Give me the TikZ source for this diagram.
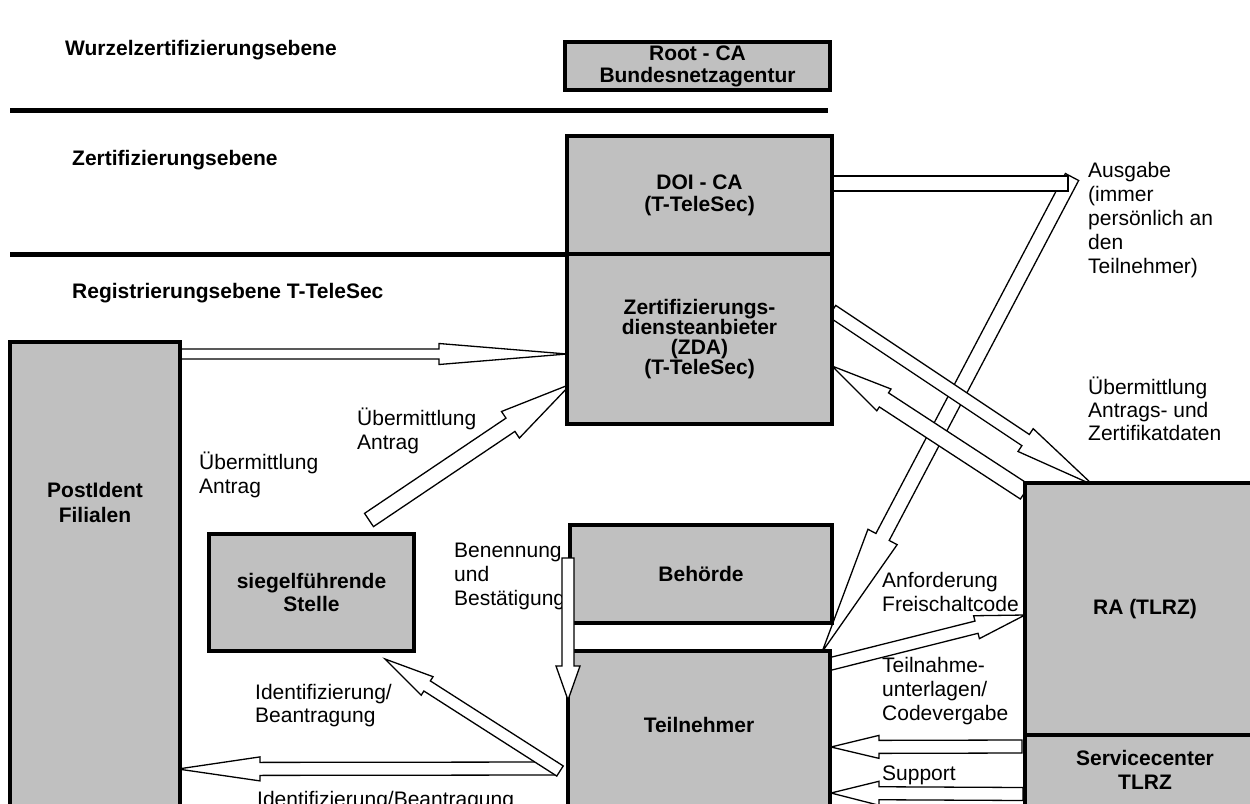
\documentclass[tikz,border=0pt]{standalone}
\usepackage{fontspec}
\setmainfont{Liberation Sans}
\usetikzlibrary{calc}
\definecolor{boxgray}{RGB}{192,192,192}
\newcommand\lf{\fontsize{21pt}{24pt}\selectfont}
\newcommand\bxs[1]{\fontsize{21pt}{#1}\selectfont\bfseries}
\newcommand\topst{\rule{0pt}{20pt}}
\newcommand\blkarrow[5]{%
  \coordinate (bkH) at ($(#2)!#5!(#1)$);
  \draw[barrow] ($(#1)!#3!90:(#2)$) -- ($(bkH)!#3!90:(#2)$) -- ($(bkH)!#4!90:(#2)$) -- (#2)
     -- ($(bkH)!#4!-90:(#2)$) -- ($(bkH)!#3!-90:(#2)$) -- ($(#1)!#3!-90:(#2)$) -- cycle;}
\tikzset{
  box/.style={draw=black, line width=4pt, fill=boxgray, inner sep=0pt, align=center, font=\bxs{22pt}},
  boxtext/.style={inner sep=0pt, align=center, font=\bxs{24pt}},
  lbl/.style={anchor=north west, inner sep=0pt, align=left, font=\lf},
  lvl/.style={anchor=base west, inner sep=0pt, font=\bxs{22pt}},
  barrow/.style={draw=black, line width=1.3pt, fill=white, line join=miter},
  sepline/.style={line width=5pt},
}
\begin{document}
\begin{tikzpicture}[x=1pt,y=-1pt]
\useasboundingbox (0,0) rectangle (1250,803);

% level labels and separators
\node[lvl] (lw) at (65,55.5) {Wurzelzertifizierungsebene};
\node[lvl] (lz) at (72,165.5) {Zertifizierungsebene};
\node[lvl] (lr) at (72,298.5) {Registrierungsebene T-TeleSec};
\draw[sepline] (10,110) -- (828,110);
\draw[sepline] (10,254) -- (567,254);

% labels
\node[lbl] (tAus) at (1088,157.5) {\topst Ausgabe\\(immer\\persönlich an\\den\\Teilnehmer)};
\node[lbl, font=\fontsize{21pt}{23pt}\selectfont] (tUeZ) at (1088,374.5) {\topst Übermittlung\\Antrags- und\\Zertifikatdaten};
\node[lbl] (tUe1) at (357,405.5) {\topst Übermittlung\\Antrag};
\node[lbl] (tUe2) at (199,449.5) {\topst Übermittlung\\Antrag};
\node[lbl] (tBen) at (454,537.5) {\topst Benennung\\und\\Bestätigung};
\node[lbl] (tAnf) at (882,567.5) {\topst Anforderung\\Freischaltcode};
\node[lbl] (tTeil) at (882,652.5) {\topst Teilnahme-\\unterlagen/\\Codevergabe};
\node[lbl] (tSup) at (882,760.5) {\topst Support};
\node[lbl, font=\fontsize{21pt}{23pt}\selectfont] (tId1) at (255,679.5) {\topst Identifizierung/\\Beantragung};
\node[lbl] (tId2) at (257,786.5) {\topst Identifizierung/Beantragung};

% arrow end points
\coordinate (a1t) at (180,354);   \coordinate (a1h) at (567,354);
\coordinate (a2t) at (369,520);   \coordinate (a2h) at (571,384);
\coordinate (a3t) at (832,311);   \coordinate (a3h) at (1093,485);
\coordinate (a4t) at (1025,492);  \coordinate (a4h) at (832,366);
\coordinate (a5t) at (830,664);   \coordinate (a5h) at (1025,615);
\coordinate (a6t) at (1072,177);  \coordinate (a6h) at (822,652);
\coordinate (a6a) at (832,176);   \coordinate (a6b) at (1068,191);
\coordinate (a7t) at (568,558);   \coordinate (a7h) at (568,700);
\coordinate (a8t) at (560,771);   \coordinate (a8h) at (385,659);
\coordinate (a9t) at (557,768.5); \coordinate (a9h) at (178,769);
\coordinate (a10t) at (1022,746.5); \coordinate (a10h) at (831,747);
\coordinate (a11t) at (1023,794); \coordinate (a11h) at (831,793);

% arrows
\blkarrow{a6t}{a6h}{7.5pt}{16.5pt}{130pt}
\draw[barrow] (a6a) rectangle (a6b);
\blkarrow{a3t}{a3h}{6.7pt}{13.7pt}{81pt}
\blkarrow{a4t}{a4h}{8.4pt}{13pt}{62pt}
\blkarrow{a1t}{a1h}{5pt}{10.5pt}{128pt}
\blkarrow{a2t}{a2h}{8pt}{16pt}{73pt}
\blkarrow{a5t}{a5h}{6.3pt}{11.8pt}{50pt}
\blkarrow{a9t}{a9h}{6.5pt}{12pt}{82pt}
\blkarrow{a8t}{a8h}{6pt}{11pt}{50pt}
\blkarrow{a10t}{a10h}{6.5pt}{11.5pt}{48pt}
\blkarrow{a11t}{a11h}{6.5pt}{12pt}{48pt}

% boxes
\node[box, minimum width=265pt, minimum height=48pt] (root) at (697.5,66) {Root - CA\\Bundesnetzagentur};
\node[box, minimum width=265pt, minimum height=118pt] (doi) at (699.5,195) {DOI - CA\\(T-TeleSec)};
\node[box, minimum width=265pt, minimum height=170pt, font=\bxs{20pt}] (zda) at (699.5,339) {Zertifizierungs-\\diensteanbieter\\(ZDA)\\(T-TeleSec)};
\node[box, minimum width=170pt, minimum height=488pt] (post) at (95,586) {};
\node[boxtext, font=\bxs{25pt}] (postt) at (95,502.5) {PostIdent\\Filialen};
\node[box, minimum width=205pt, minimum height=117pt, font=\bxs{23pt}] (siegel) at (311.5,592.5) {siegelführende\\Stelle};
\node[box, minimum width=262pt, minimum height=98pt] (beh) at (701,574) {Behörde};
\node[box, minimum width=262pt, minimum height=179pt] (teil) at (699,740.5) {};
\node[boxtext] (teilt) at (699,725) {Teilnehmer};
\node[box, minimum width=240pt, minimum height=252pt] (ra) at (1145,609) {RA (TLRZ)};
\node[box, minimum width=240pt, minimum height=95pt] (svc) at (1145,782.5) {};
\node[boxtext] (svct) at (1145,770) {Servicecenter\\TLRZ};

% arrow drawn over the boxes
\blkarrow{a7t}{a7h}{6pt}{12pt}{34pt}
\end{tikzpicture}
\end{document}
